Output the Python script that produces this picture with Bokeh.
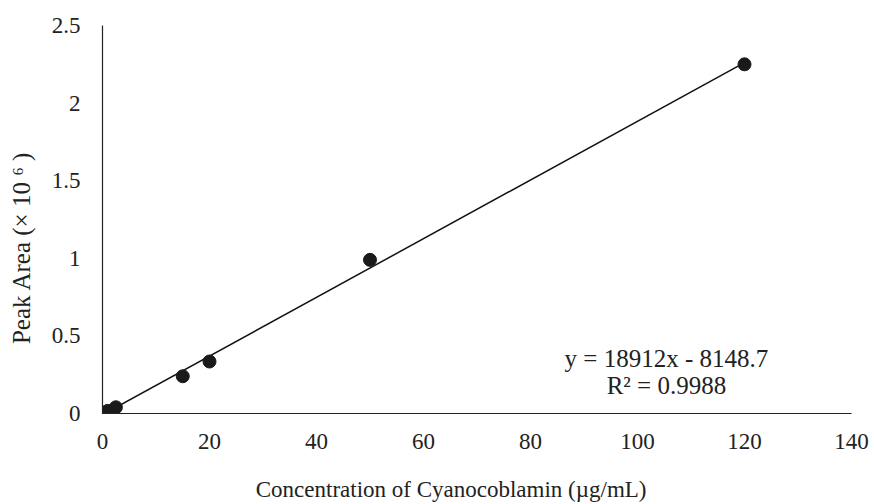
from bokeh.plotting import figure
from bokeh.models import Range1d, Label, Whisker, ColumnDataSource, FixedTicker, LinearAxis
from bokeh.embed import file_html
from bokeh.resources import INLINE

conc = [0.1, 0.5, 1.0, 2.5, 15, 20, 50, 120]
area = [0.002, 0.008, 0.017, 0.04, 0.24, 0.335, 0.99, 2.25]
err = [0.003, 0.003, 0.003, 0.004, 0.008, 0.008, 0.026, 0.01]
slope = 18912e-6
intercept = -8148.7e-6
x_ticks = [0, 20, 40, 60, 80, 100, 120, 140]
y_ticks = [0, 0.5, 1, 1.5, 2, 2.5]
x_title = "Concentration of Cyanocoblamin (µg/mL)"
y_title = "Peak Area (× 10 ⁶ )"
eq_text = "y = 18912x - 8148.7"
r2_text = "R² = 0.9988"

FONT = "Liberation Serif"
INK = "#222222"
NBSP = "\u00a0"
p = figure(width=874, height=504, output_backend="svg", toolbar_location=None,
           x_range=Range1d(0, 140), y_range=Range1d(0, 2.5),
           x_axis_type=None, y_axis_type=None,
           min_border_left=102, min_border_right=23, min_border_top=25, min_border_bottom=91)
p.outline_line_color = None
p.grid.visible = False


def style(ax, title_size):
    ax.major_tick_line_color = None
    ax.minor_tick_line_color = None
    ax.axis_line_color = INK
    ax.axis_line_width = 1.2
    ax.major_label_text_font = FONT
    ax.major_label_text_font_size = "23px"
    ax.major_label_text_color = INK
    ax.axis_label_text_font = FONT
    ax.axis_label_text_font_size = title_size
    ax.axis_label_text_font_style = "normal"
    ax.axis_label_text_color = INK


# trailing no-break spaces shift the titles off-centre as in the reference
xa = LinearAxis(ticker=FixedTicker(ticks=x_ticks), axis_label=x_title + NBSP * 9)
ya = LinearAxis(ticker=FixedTicker(ticks=y_ticks), axis_label=y_title + NBSP * 9)
style(xa, "23px")
style(ya, "25px")
xa.major_label_standoff = 14
ya.major_label_standoff = 16
xa.axis_label_standoff = 25
ya.axis_label_standoff = 14
p.add_layout(xa, "below")
p.add_layout(ya, "left")

# trendline
xs = [min(conc), max(conc)]
ys = [slope * v + intercept for v in xs]
p.line(xs, ys, line_color="#111111", line_width=1.5)

src = ColumnDataSource(dict(x=conc, y=area,
                            lo=[a - e for a, e in zip(area, err)],
                            hi=[a + e for a, e in zip(area, err)]))
p.add_layout(Whisker(source=src, base="x", lower="lo", upper="hi",
                     line_color="#888888", line_width=1,
                     upper_head=None, lower_head=None))
p.scatter("x", "y", source=src, size=13, fill_color="#1a1a1a", line_color="#1a1a1a")

p.add_layout(Label(x=105.4, y=0.354, text=eq_text, text_align="center",
                   text_baseline="middle", text_font=FONT, text_font_size="25px",
                   text_color=INK))
p.add_layout(Label(x=105.4, y=0.18, text=r2_text, text_align="center",
                   text_baseline="middle", text_font=FONT, text_font_size="25px",
                   text_color=INK))

open("out.html", "w").write(file_html(p, INLINE))
